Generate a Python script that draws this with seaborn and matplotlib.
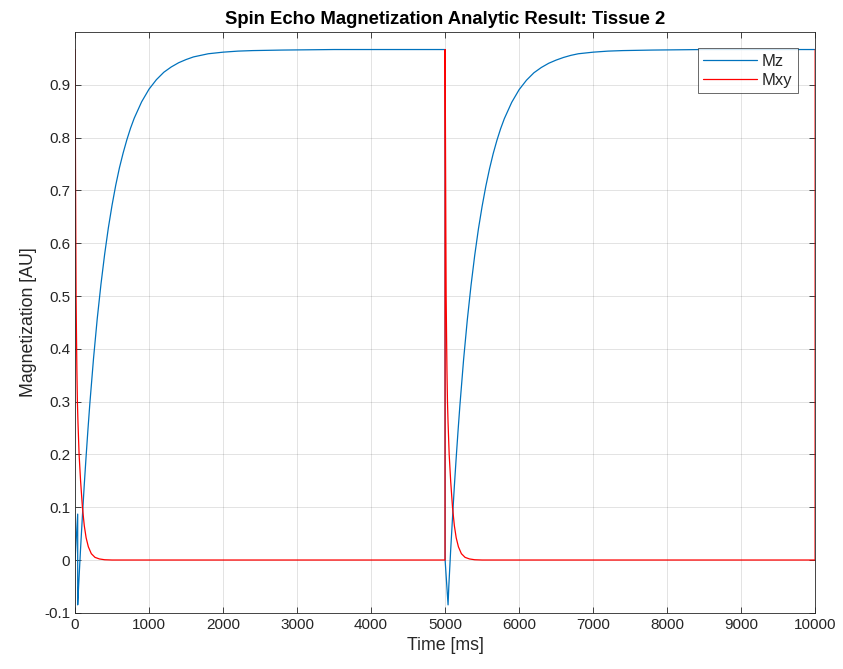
import numpy as np
import pandas as pd
import matplotlib
matplotlib.use('Agg')
import matplotlib.pyplot as plt
import seaborn as sns

# values (two repetitions, TR = 5000 ms)
t_mz = [0, 36, 36, 50, 75, 100, 125, 150, 175, 200, 250, 300, 350, 400, 450,
        500, 550, 600, 650, 700, 750, 800, 900, 1000, 1100, 1200, 1300, 1400,
        1500, 1600, 1700, 1800, 2000, 2200, 2400, 2800, 3500, 4999,
        5000, 5040, 5050, 5075, 5100, 5125, 5150, 5175, 5200, 5250, 5300,
        5350, 5400, 5450, 5500, 5550, 5600, 5650, 5700, 5750, 5800, 5900,
        6000, 6100, 6200, 6300, 6400, 6500, 6600, 6700, 6800, 7000, 7200,
        7400, 7800, 8500, 10000]
mz = [0, 0.087, -0.085, -0.045, 0.022, 0.084, 0.143, 0.197, 0.248, 0.296,
      0.382, 0.457, 0.522, 0.579, 0.629, 0.672, 0.710, 0.743, 0.771, 0.796,
      0.818, 0.837, 0.868, 0.892, 0.910, 0.924, 0.934, 0.942, 0.948, 0.953,
      0.956, 0.959, 0.962, 0.964, 0.965, 0.966, 0.967, 0.967,
      0, -0.085, -0.050, 0.018, 0.080, 0.140, 0.194, 0.245, 0.293, 0.380,
      0.455, 0.520, 0.577, 0.627, 0.670, 0.708, 0.741, 0.770, 0.795, 0.817,
      0.836, 0.867, 0.891, 0.909, 0.923, 0.933, 0.941, 0.947, 0.952, 0.956,
      0.959, 0.962, 0.964, 0.965, 0.966, 0.967, 0.967]

t_mxy = [0, 5, 10, 14, 20, 25, 32, 40, 55, 75, 100, 125, 150, 180, 220, 270,
         330, 400, 500, 4999,
         5000, 5005, 5010, 5014, 5020, 5025, 5032, 5040, 5055, 5075, 5100,
         5125, 5150, 5180, 5220, 5270, 5330, 5400, 5500, 9999, 10000]
mxy = [0.967, 0.8, 0.62, 0.5, 0.42, 0.36, 0.3, 0.26, 0.2, 0.15, 0.1, 0.065,
       0.042, 0.025, 0.012, 0.005, 0.002, 0.0005, 0, 0,
       0.967, 0.8, 0.62, 0.5, 0.42, 0.36, 0.3, 0.26, 0.2, 0.15, 0.1, 0.065,
       0.042, 0.025, 0.012, 0.005, 0.002, 0.0005, 0, 0, 0.967]

x_ticks = list(range(0, 10001, 1000))
y_ticks = [-0.1, 0, 0.1, 0.2, 0.3, 0.4, 0.5, 0.6, 0.7, 0.8, 0.9]
y_labels = ['-0.1', '0', '0.1', '0.2', '0.3', '0.4', '0.5', '0.6', '0.7', '0.8', '0.9']

mz_df = pd.DataFrame({'t': t_mz, 'm': mz})
mxy_df = pd.DataFrame({'t': t_mxy, 'm': mxy})

sns.set_theme(style='ticks')
plt.rcParams['font.family'] = ['Liberation Sans', 'DejaVu Sans']
plt.rcParams['axes.unicode_minus'] = False

fig = plt.figure(figsize=(8.43, 6.69), dpi=100)
ax = fig.add_axes([0.089, 0.084, 0.878, 0.868])

sns.lineplot(data=mz_df, x='t', y='m', sort=False, estimator=None,
             color='#0072BD', linewidth=0.9, label='Mz', ax=ax)
sns.lineplot(data=mxy_df, x='t', y='m', sort=False, estimator=None,
             color='#FF0000', linewidth=0.9, label='Mxy', ax=ax)

ax.set_xlim(0, 10000)
ax.set_ylim(-0.1, 1.0)
ax.set_xticks(x_ticks)
ax.set_xticklabels([str(v) for v in x_ticks])
ax.set_yticks(y_ticks)
ax.set_yticklabels(y_labels)
ax.grid(True, color='#262626', alpha=0.15, linewidth=0.6)
ax.set_axisbelow(True)
ax.tick_params(direction='in', length=4, width=0.6, colors='#262626',
               labelsize=11, top=True, right=True)
for s in ax.spines.values():
    s.set_visible(True)
    s.set_color('#262626')
    s.set_linewidth(0.6)

ax.set_title('Spin Echo Magnetization Analytic Result: Tissue 2',
             fontsize=13.3, fontweight='bold', color='black', pad=6)
ax.set_xlabel('Time [ms]', fontsize=12.8, color='#262626', labelpad=4)
ax.set_ylabel('Magnetization [AU]', fontsize=12.8, color='#262626', labelpad=5)

leg = ax.legend(loc='upper right', bbox_to_anchor=(0.977, 0.972), fontsize=12,
                frameon=True, fancybox=False, edgecolor='#262626',
                borderaxespad=0, handlelength=3.2, borderpad=0.35,
                labelspacing=0.2, handletextpad=0.3)
leg.get_frame().set_linewidth(0.6)

fig.savefig('out.png', dpi=100)
